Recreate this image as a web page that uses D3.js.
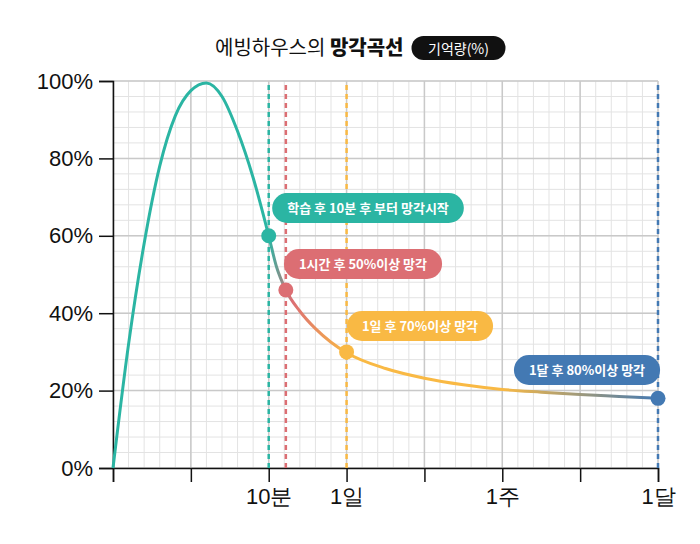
<!DOCTYPE html>
<html><head><meta charset="utf-8">
<script src="https://cdn.jsdelivr.net/npm/d3@7"></script>
<style>body{margin:0;background:#fff}svg{font-family:"Noto Sans CJK KR","Noto Sans",sans-serif}</style>
</head><body><svg id="c" width="700" height="544"></svg>
<script>
const xTickVals = [2, 3, 5, 7];
const xTickLabels = ["10분", "1일", "1주", "1달"];
const yTickVals = [0, 20, 40, 60, 80, 100];
const curveX = [0, 0.2, 0.4, 0.6, 0.8, 1.0, 1.2, 1.4, 1.6, 1.8, 2.0, 2.1, 2.22, 2.4, 2.6, 2.8, 3.0, 3.5, 4.0, 4.5, 5.0, 5.5, 6.0, 6.5, 7.0];
const curveY = [0, 32, 58, 78, 91, 97.5, 99.5, 96, 87, 75, 60, 52, 46, 40.5, 36, 32.5, 29.8, 25.7, 23.2, 21.5, 20.3, 19.6, 19.0, 18.5, 18.0];
const markers = [
  {x:2.0, y:60, color:"#2bb5a3", label:"학습 후 10분 후 부터 망각시작"},
  {x:2.22, y:46, color:"#dc6e73", label:"1시간 후 50%이상 망각"},
  {x:3.0, y:30, color:"#f9b944", label:"1일 후 70%이상 망각"},
  {x:7.0, y:18, color:"#4379b3", label:"1달 후 80%이상 망각"}
];
const labelPos = [[368,208],[363,264],[420,326],[587,370]];

const svg = d3.select("#c");
const x = d3.scaleLinear().domain([0,7]).range([113,658]);
const y = d3.scaleLinear().domain([0,100]).range([468,81]);

const g = svg.append("g");
d3.range(0, 7.01, 0.2).forEach(v=>g.append("line").attr("x1",x(v)).attr("x2",x(v)).attr("y1",y(0)).attr("y2",y(100)).attr("stroke","#e3e3e3").attr("stroke-width",1));
d3.range(0, 100.1, 4).forEach(v=>g.append("line").attr("x1",x(0)).attr("x2",x(7)).attr("y1",y(v)).attr("y2",y(v)).attr("stroke","#e3e3e3").attr("stroke-width",1));
d3.range(0, 7.01, 1).forEach(v=>g.append("line").attr("x1",x(v)).attr("x2",x(v)).attr("y1",y(0)).attr("y2",y(100)).attr("stroke","#c9c9c9").attr("stroke-width",1.5));
yTickVals.forEach(v=>g.append("line").attr("x1",x(0)).attr("x2",x(7)).attr("y1",y(v)).attr("y2",y(v)).attr("stroke","#c9c9c9").attr("stroke-width",1.5));

const ya = svg.append("g").attr("transform","translate(113,0)")
  .call(d3.axisLeft(y).tickValues(yTickVals).tickFormat(d=>d+"%").tickSize(14).tickPadding(6));
ya.select(".domain").attr("stroke","#111").attr("stroke-width",1.5);
ya.selectAll("line").attr("stroke","#111").attr("stroke-width",1.5);
ya.selectAll("text").attr("font-size",22).attr("fill","#111").attr("x",-20);

const xa = svg.append("g").attr("transform","translate(0,468)")
  .call(d3.axisBottom(x).tickValues(d3.range(0,7.01,1)).tickFormat(d=>{const i=xTickVals.indexOf(d);return i>=0?xTickLabels[i]:"";}).tickSize(14).tickPadding(6));
xa.select(".domain").attr("stroke","#111").attr("stroke-width",1.5);
xa.selectAll("line").attr("stroke","#111").attr("stroke-width",1.5);
xa.selectAll("text").attr("font-size",22).attr("fill","#111");

markers.forEach(m=>svg.append("line").attr("x1",x(m.x)).attr("x2",x(m.x)).attr("y1",y(0)).attr("y2",y(100)).attr("stroke",m.color).attr("stroke-width",2.5).attr("stroke-dasharray","5,4"));

const defs = svg.append("defs");
const gr = defs.append("linearGradient").attr("id","gr").attr("gradientUnits","userSpaceOnUse")
  .attr("x1",x(0)).attr("x2",x(7)).attr("y1",0).attr("y2",0);
[[0,"#2bb5a3"],[2.0,"#2bb5a3"],[2.3,"#dc6e73"],[3.0,"#f9b944"],[5.0,"#f9b944"],[7,"#4379b3"]]
  .forEach(([v,c])=>gr.append("stop").attr("offset",v/7).attr("stop-color",c));
const pts = curveX.map((v,i)=>[v,curveY[i]]);
svg.append("path").datum(pts).attr("fill","none").attr("stroke","url(#gr)").attr("stroke-width",3)
  .attr("d",d3.line().x(d=>x(d[0])).y(d=>y(d[1])).curve(d3.curveMonotoneX));

markers.forEach((m,i)=>{
  svg.append("circle").attr("cx",x(m.x)).attr("cy",y(m.y)).attr("r",7.5).attr("fill",m.color);
  const [cx,cy]=labelPos[i];
  const lg = svg.append("g");
  const r = lg.append("rect");
  const t = lg.append("text").attr("x",cx).attr("y",cy+5).attr("text-anchor","middle").attr("font-size",13).attr("font-weight",700).attr("fill","#fff").text(m.label);
  const w = t.node().getComputedTextLength()+30;
  r.attr("x",cx-w/2).attr("y",cy-15).attr("width",w).attr("height",30).attr("rx",15).attr("fill",m.color);
});

const title = svg.append("text").attr("x",215).attr("y",55).attr("font-size",20).attr("fill","#111");
title.append("tspan").text("에빙하우스의 ");
title.append("tspan").attr("font-weight",900).text("망각곡선");
const tw = title.node().getComputedTextLength();
svg.append("rect").attr("x",215+tw+8).attr("y",36).attr("width",94).attr("height",24).attr("rx",12).attr("fill","#111");
svg.append("text").attr("x",215+tw+55).attr("y",54).attr("text-anchor","middle").attr("font-size",14).attr("fill","#fff").text("기억량(%)");
</script></body></html>
